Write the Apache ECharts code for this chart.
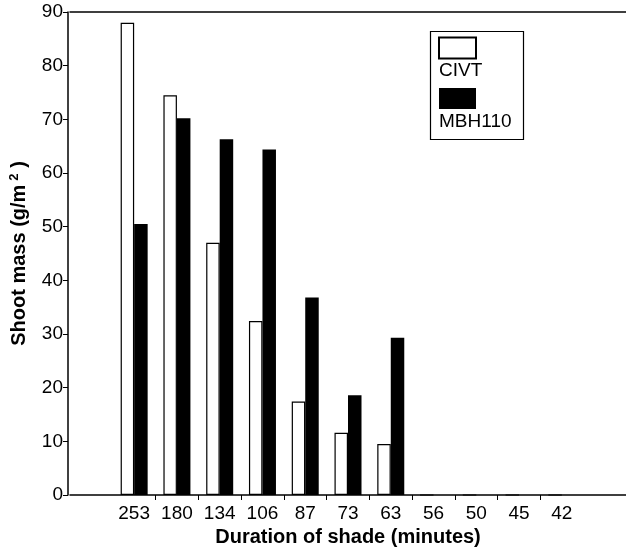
<!DOCTYPE html>
<html>
<head>
<meta charset="utf-8">
<script src="https://cdn.jsdelivr.net/npm/echarts@6/dist/echarts.min.js"></script>
<style>
html,body{margin:0;padding:0;background:#fff;}
#chart{width:626px;height:553px;}
</style>
</head>
<body>
<div id="chart"></div>
<script>
// Data
const categories = ['253', '180', '134', '106', '87', '73', '63', '56', '50', '45', '42'];
const civt = [88, 74.5, 47, 32.4, 17.4, 11.6, 9.5, 0, 0, 0, 0];
const mbh110 = [50.5, 70.2, 66.3, 64.4, 36.8, 18.6, 29.3, 0, 0, 0, 0];
const yTicks = [0, 10, 20, 30, 40, 50, 60, 70, 80, 90];

const FONT = 'Liberation Sans, Arial, Helvetica, sans-serif';
// one empty slot on each side of the category axis (as in the reference)
const axisCats = [''].concat(categories, ['']);
const pad = arr => [null].concat(arr, [null]);

const chart = echarts.init(document.getElementById('chart'), null, {renderer: 'canvas'});
chart.setOption({
  animation: false,
  backgroundColor: '#fff',
  grid: {left: 69, right: -2, top: 12, bottom: 58, containLabel: false},
  legend: {
    orient: 'vertical',
    left: 438,
    top: 32,
    padding: 0,
    itemWidth: 37,
    itemHeight: 21,
    itemGap: 2,
    icon: 'rect',
    selectedMode: false,
    data: ['CIVT', 'MBH110'],
    formatter: name => '{s| }\n{t|' + name + '}',
    textStyle: {
      fontFamily: FONT,
      color: '#000',
      padding: [0, 0, 0, -42],
      rich: {
        s: {fontSize: 10, lineHeight: 46},
        t: {fontSize: 19, lineHeight: 22, fontFamily: FONT, color: '#000'}
      }
    }
  },
  graphic: [{
    type: 'rect',
    shape: {x: 430.5, y: 31.5, width: 93, height: 108},
    style: {fill: 'none', stroke: '#000', lineWidth: 1.2},
    z: 10
  }],
  xAxis: [{
    type: 'category',
    data: axisCats,
    boundaryGap: true,
    name: 'Duration of shade (minutes)',
    nameLocation: 'middle',
    nameGap: 31,
    nameTextStyle: {fontFamily: FONT, fontSize: 20, fontWeight: 'bold', color: '#000'},
    axisLine: {show: true, lineStyle: {color: '#000', width: 1.5}},
    axisTick: {show: true, length: 5, inside: false, lineStyle: {color: '#000', width: 1},
      interval: (i) => i >= 2 && i <= 11},
    axisLabel: {fontFamily: FONT, fontSize: 19, color: '#000', margin: 9, interval: 0},
    splitLine: {show: false}
  }, {
    type: 'category',
    data: axisCats,
    position: 'top',
    axisLine: {show: true, lineStyle: {color: '#000', width: 1.5}},
    axisTick: {show: false},
    axisLabel: {show: false},
    splitLine: {show: false}
  }],
  yAxis: {
    type: 'value',
    min: yTicks[0],
    max: yTicks[yTicks.length - 1],
    interval: yTicks[1] - yTicks[0],
    offset: 2,
    name: 'Shoot mass (g/m{sup|2} )',
    nameLocation: 'middle',
    nameGap: 37,
    nameTextStyle: {
      fontFamily: FONT, fontSize: 20, fontWeight: 'bold', color: '#000',
      rich: {sup: {fontFamily: FONT, fontSize: 13, fontWeight: 'bold', color: '#000', verticalAlign: 'top', padding: [0, 0, 10, 4]}}
    },
    axisLine: {show: true, lineStyle: {color: '#000', width: 1.5}},
    axisTick: {show: true, length: 5, inside: false, lineStyle: {color: '#000', width: 1}},
    axisLabel: {fontFamily: FONT, fontSize: 19, color: '#000', margin: 5},
    splitLine: {show: false}
  },
  series: [{
    name: 'CIVT',
    type: 'bar',
    data: pad(civt),
    barWidth: 13.5,
    barGap: '0%',
    itemStyle: {color: '#fff', borderColor: '#000', borderWidth: 1.2}
  }, {
    name: 'MBH110',
    type: 'bar',
    data: pad(mbh110),
    barWidth: 13.5,
    barGap: '0%',
    itemStyle: {color: '#000', borderColor: '#000', borderWidth: 0}
  }]
});
</script>
</body>
</html>
